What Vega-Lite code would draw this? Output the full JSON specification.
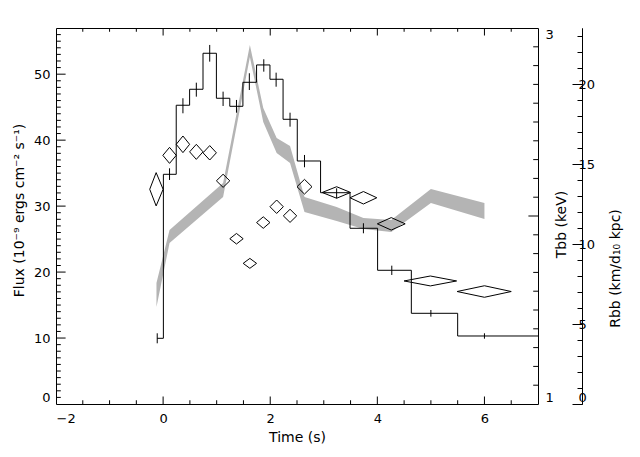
{
  "$schema": "https://vega.github.io/schema/vega-lite/v6.json",
  "width": 482,
  "height": 376,
  "autosize": {"type": "none"},
  "padding": {"left": 56, "top": 28, "right": 102, "bottom": 53},
  "background": "white",
  "config": {
    "view": {"stroke": "black", "strokeWidth": 1},
    "axis": {
      "domainColor": "black", "tickColor": "black", "labelColor": "black", "titleColor": "black",
      "labelFont": "DejaVu Sans", "titleFont": "DejaVu Sans", "labelFontSize": 13, "titleFontSize": 14,
      "titleFontWeight": "normal", "domainWidth": 1, "tickWidth": 1, "grid": false,
      "labelOverlap": false, "labelBound": false
    },
    "tick": {"thickness": 1, "opacity": 1, "color": "black"}
  },
  "datasets": {
    "flux": [
      {"t": -0.11, "flux": 9.96, "lo": 9.20, "hi": 10.72},
      {"t": 0.12, "flux": 34.82, "lo": 33.96, "hi": 35.73},
      {"t": 0.37, "flux": 45.29, "lo": 44.07, "hi": 46.35},
      {"t": 0.62, "flux": 47.71, "lo": 46.59, "hi": 48.71},
      {"t": 0.87, "flux": 53.17, "lo": 51.90, "hi": 54.43},
      {"t": 1.12, "flux": 46.35, "lo": 45.18, "hi": 47.35},
      {"t": 1.37, "flux": 45.13, "lo": 44.16, "hi": 46.09},
      {"t": 1.61, "flux": 48.77, "lo": 47.60, "hi": 50.14},
      {"t": 1.88, "flux": 51.40, "lo": 50.38, "hi": 52.26},
      {"t": 2.11, "flux": 49.23, "lo": 48.10, "hi": 50.23},
      {"t": 2.37, "flux": 43.16, "lo": 42.04, "hi": 44.16},
      {"t": 2.64, "flux": 36.84, "lo": 35.89, "hi": 37.75},
      {"t": 3.24, "flux": 32.03, "lo": 31.19, "hi": 32.70},
      {"t": 3.74, "flux": 26.64, "lo": 25.88, "hi": 27.40},
      {"t": 4.27, "flux": 20.27, "lo": 19.56, "hi": 20.97},
      {"t": 5.0, "flux": 13.75, "lo": 13.24, "hi": 14.25},
      {"t": 6.0, "flux": 10.31, "lo": 9.90, "hi": 10.72},
      {"t": 8.5, "flux": 10.31, "lo": null, "hi": null}
    ],
    "band": [
      {"t": -0.124, "lo": 1.516, "hi": 1.644},
      {"t": 0.12, "lo": 1.856, "hi": 1.926},
      {"t": 1.12, "lo": 2.101, "hi": 2.176},
      {"t": 1.62, "lo": 2.846, "hi": 2.910},
      {"t": 1.87, "lo": 2.500, "hi": 2.574},
      {"t": 2.12, "lo": 2.335, "hi": 2.415},
      {"t": 2.37, "lo": 2.282, "hi": 2.372},
      {"t": 2.64, "lo": 2.021, "hi": 2.101},
      {"t": 3.24, "lo": 1.973, "hi": 2.048},
      {"t": 3.74, "lo": 1.931, "hi": 1.989},
      {"t": 4.26, "lo": 1.915, "hi": 1.979},
      {"t": 5.0, "lo": 2.069, "hi": 2.144},
      {"t": 6.0, "lo": 1.984, "hi": 2.069}
    ],
    "diam": [
      {"id": 1, "t": -0.25, "lo": 13.42, "hi": 13.42}, {"id": 1, "t": -0.13, "lo": 12.38, "hi": 14.46}, {"id": 1, "t": 0.0, "lo": 13.42, "hi": 13.42},
      {"id": 2, "t": -0.005, "lo": 15.54, "hi": 15.54}, {"id": 2, "t": 0.12, "lo": 15.04, "hi": 16.04}, {"id": 2, "t": 0.245, "lo": 15.54, "hi": 15.54},
      {"id": 3, "t": 0.245, "lo": 16.23, "hi": 16.23}, {"id": 3, "t": 0.37, "lo": 15.71, "hi": 16.75}, {"id": 3, "t": 0.495, "lo": 16.23, "hi": 16.23},
      {"id": 4, "t": 0.495, "lo": 15.76, "hi": 15.76}, {"id": 4, "t": 0.62, "lo": 15.29, "hi": 16.23}, {"id": 4, "t": 0.745, "lo": 15.76, "hi": 15.76},
      {"id": 5, "t": 0.745, "lo": 15.70, "hi": 15.70}, {"id": 5, "t": 0.87, "lo": 15.25, "hi": 16.15}, {"id": 5, "t": 0.995, "lo": 15.70, "hi": 15.70},
      {"id": 6, "t": 0.995, "lo": 13.95, "hi": 13.95}, {"id": 6, "t": 1.12, "lo": 13.54, "hi": 14.36}, {"id": 6, "t": 1.245, "lo": 13.95, "hi": 13.95},
      {"id": 7, "t": 1.245, "lo": 10.33, "hi": 10.33}, {"id": 7, "t": 1.37, "lo": 10.00, "hi": 10.66}, {"id": 7, "t": 1.495, "lo": 10.33, "hi": 10.33},
      {"id": 8, "t": 1.495, "lo": 8.79, "hi": 8.79}, {"id": 8, "t": 1.62, "lo": 8.48, "hi": 9.10}, {"id": 8, "t": 1.745, "lo": 8.79, "hi": 8.79},
      {"id": 9, "t": 1.745, "lo": 11.34, "hi": 11.34}, {"id": 9, "t": 1.87, "lo": 10.98, "hi": 11.70}, {"id": 9, "t": 1.995, "lo": 11.34, "hi": 11.34},
      {"id": 10, "t": 1.995, "lo": 12.33, "hi": 12.33}, {"id": 10, "t": 2.12, "lo": 11.91, "hi": 12.75}, {"id": 10, "t": 2.245, "lo": 12.33, "hi": 12.33},
      {"id": 11, "t": 2.245, "lo": 11.76, "hi": 11.76}, {"id": 11, "t": 2.37, "lo": 11.35, "hi": 12.17}, {"id": 11, "t": 2.495, "lo": 11.76, "hi": 11.76},
      {"id": 12, "t": 2.50, "lo": 13.58, "hi": 13.58}, {"id": 12, "t": 2.64, "lo": 13.12, "hi": 14.04}, {"id": 12, "t": 2.78, "lo": 13.58, "hi": 13.58},
      {"id": 13, "t": 2.97, "lo": 13.22, "hi": 13.22}, {"id": 13, "t": 3.24, "lo": 12.86, "hi": 13.58}, {"id": 13, "t": 3.50, "lo": 13.22, "hi": 13.22},
      {"id": 14, "t": 3.49, "lo": 12.89, "hi": 12.89}, {"id": 14, "t": 3.74, "lo": 12.50, "hi": 13.28}, {"id": 14, "t": 3.99, "lo": 12.89, "hi": 12.89},
      {"id": 15, "t": 4.00, "lo": 11.26, "hi": 11.26}, {"id": 15, "t": 4.26, "lo": 10.87, "hi": 11.65}, {"id": 15, "t": 4.52, "lo": 11.26, "hi": 11.26},
      {"id": 16, "t": 4.50, "lo": 7.69, "hi": 7.69}, {"id": 16, "t": 4.99, "lo": 7.38, "hi": 8.00}, {"id": 16, "t": 5.48, "lo": 7.69, "hi": 7.69},
      {"id": 17, "t": 5.49, "lo": 7.03, "hi": 7.03}, {"id": 17, "t": 6.00, "lo": 6.67, "hi": 7.39}, {"id": 17, "t": 6.50, "lo": 7.03, "hi": 7.03}
    ],
    "fluxMajor": [{"v": 10}, {"v": 20}, {"v": 30}, {"v": 40}, {"v": 50}],
    "fluxMinor": [{"v": 1}, {"v": 2}, {"v": 3}, {"v": 4}, {"v": 5}, {"v": 6}, {"v": 7}, {"v": 8}, {"v": 9},
      {"v": 11}, {"v": 12}, {"v": 13}, {"v": 14}, {"v": 15}, {"v": 16}, {"v": 17}, {"v": 18}, {"v": 19},
      {"v": 21}, {"v": 22}, {"v": 23}, {"v": 24}, {"v": 25}, {"v": 26}, {"v": 27}, {"v": 28}, {"v": 29},
      {"v": 31}, {"v": 32}, {"v": 33}, {"v": 34}, {"v": 35}, {"v": 36}, {"v": 37}, {"v": 38}, {"v": 39},
      {"v": 41}, {"v": 42}, {"v": 43}, {"v": 44}, {"v": 45}, {"v": 46}, {"v": 47}, {"v": 48}, {"v": 49},
      {"v": 51}, {"v": 52}, {"v": 53}, {"v": 54}, {"v": 55}, {"v": 56}],
    "tMajor": [{"v": 2}],
    "tMinor": [{"v": 1.1}, {"v": 1.2}, {"v": 1.3}, {"v": 1.4}, {"v": 1.5}, {"v": 1.6}, {"v": 1.7}, {"v": 1.8}, {"v": 1.9},
      {"v": 2.1}, {"v": 2.2}, {"v": 2.3}, {"v": 2.4}, {"v": 2.5}, {"v": 2.6}, {"v": 2.7}, {"v": 2.8}, {"v": 2.9}],
    "timeMajor": [{"v": 0}, {"v": 2}, {"v": 4}, {"v": 6}],
    "timeMinor": [{"v": -1.5}, {"v": -1}, {"v": -0.5}, {"v": 0.5}, {"v": 1}, {"v": 1.5}, {"v": 2.5}, {"v": 3}, {"v": 3.5}, {"v": 4.5}, {"v": 5}, {"v": 5.5}, {"v": 6.5}]
  },
  "layer": [
    {
      "data": {"name": "band"},
      "mark": {"type": "area", "color": "#b4b4b4", "clip": true},
      "encoding": {
        "x": {"field": "t", "type": "quantitative", "scale": {"domain": [-2, 7], "nice": false, "zero": false}, "axis": null},
        "y": {"field": "hi", "type": "quantitative", "scale": {"domain": [1, 3], "nice": false, "zero": false},
          "axis": {"orient": "right", "values": [1, 2, 3], "format": "d", "ticks": false, "domain": false,
            "labelPadding": 7, "labelFlush": true,
            "title": "Tbb (keV)", "titleAngle": -90, "titleX": 23, "titleY": 196, "titleAlign": "center", "titleBaseline": "middle"}},
        "y2": {"field": "lo"}
      }
    },
    {
      "data": {"name": "flux"},
      "mark": {"type": "line", "interpolate": "step", "color": "black", "strokeWidth": 1, "clip": true},
      "encoding": {
        "x": {"field": "t", "type": "quantitative",
          "axis": {"orient": "bottom", "values": [-2, 0, 2, 4, 6], "format": "d", "ticks": false, "domain": false,
            "labelPadding": 8,
            "title": "Time (s)", "titleX": 241, "titleY": 33, "titleAlign": "center", "titleBaseline": "middle"}},
        "y": {"field": "flux", "type": "quantitative", "scale": {"domain": [0, 57], "nice": false, "zero": false},
          "axis": {"orient": "left", "values": [0, 10, 20, 30, 40, 50], "format": "d", "ticks": false, "domain": false,
            "labelPadding": 6, "labelFlush": true,
            "title": "Flux (10⁻⁹ ergs cm⁻² s⁻¹)", "titleAngle": -90, "titleX": -37, "titleY": 182, "titleAlign": "center", "titleBaseline": "middle"}}
      }
    },
    {
      "data": {"name": "flux"},
      "mark": {"type": "rule", "color": "black", "strokeWidth": 1, "clip": true},
      "encoding": {
        "x": {"field": "t", "type": "quantitative", "axis": null},
        "y": {"field": "lo", "type": "quantitative", "scale": {"domain": [0, 57], "nice": false, "zero": false}, "axis": null},
        "y2": {"field": "hi"}
      }
    },
    {
      "data": {"name": "diam"},
      "mark": {"type": "area", "fill": "white", "fillOpacity": 0, "stroke": "black", "strokeWidth": 1, "clip": true},
      "encoding": {
        "x": {"field": "t", "type": "quantitative", "axis": null},
        "y": {"field": "hi", "type": "quantitative", "scale": {"domain": [0, 23.5], "nice": false, "zero": false},
          "axis": {"orient": "right", "offset": 44, "values": [0, 5, 10, 15, 20], "format": "d", "ticks": true, "tickSize": -10,
            "labelPadding": 6, "labelFlush": true, "domain": true,
            "title": "Rbb (km/d₁₀ kpc)", "titleAngle": -90, "titleX": 33, "titleY": 240, "titleAlign": "center", "titleBaseline": "middle"}},
        "y2": {"field": "lo"},
        "detail": {"field": "id"}
      }
    },
    {
      "data": {"name": "diam"},
      "mark": {"type": "area", "opacity": 0},
      "encoding": {
        "x": {"field": "t", "type": "quantitative", "axis": null},
        "y": {"field": "hi", "type": "quantitative", "scale": {"domain": [0, 23.5], "nice": false, "zero": false},
          "axis": {"orient": "right", "offset": 44, "values": [1,2,3,4,6,7,8,9,11,12,13,14,16,17,18,19,21,22,23],
            "labels": false, "title": null, "domain": true, "ticks": true, "tickSize": -5}},
        "y2": {"field": "lo"},
        "detail": {"field": "id"}
      }
    },
    {
      "data": {"name": "fluxMajor"},
      "mark": {"type": "tick", "orient": "horizontal", "size": 9.6, "xOffset": 4.8},
      "encoding": {
        "x": {"datum": -2, "type": "quantitative", "axis": null},
        "y": {"field": "v", "type": "quantitative", "scale": {"domain": [0, 57], "nice": false, "zero": false}, "axis": null}
      }
    },
    {
      "data": {"name": "fluxMinor"},
      "mark": {"type": "tick", "orient": "horizontal", "size": 4.8, "xOffset": 2.4},
      "encoding": {
        "x": {"datum": -2, "type": "quantitative", "axis": null},
        "y": {"field": "v", "type": "quantitative", "scale": {"domain": [0, 57], "nice": false, "zero": false}, "axis": null}
      }
    },
    {
      "data": {"name": "tMajor"},
      "mark": {"type": "tick", "orient": "horizontal", "size": 9.6, "xOffset": -4.8},
      "encoding": {
        "x": {"datum": 7, "type": "quantitative", "axis": null},
        "y": {"field": "v", "type": "quantitative", "scale": {"domain": [1, 3], "nice": false, "zero": false}, "axis": null}
      }
    },
    {
      "data": {"name": "tMinor"},
      "mark": {"type": "tick", "orient": "horizontal", "size": 4.8, "xOffset": -2.4},
      "encoding": {
        "x": {"datum": 7, "type": "quantitative", "axis": null},
        "y": {"field": "v", "type": "quantitative", "scale": {"domain": [1, 3], "nice": false, "zero": false}, "axis": null}
      }
    },
    {
      "data": {"name": "timeMajor"},
      "mark": {"type": "tick", "orient": "vertical", "size": 7.5, "yOffset": -3.75},
      "encoding": {
        "x": {"field": "v", "type": "quantitative", "axis": null},
        "y": {"datum": 0, "type": "quantitative", "scale": {"domain": [0, 57], "nice": false, "zero": false}, "axis": null}
      }
    },
    {
      "data": {"name": "timeMinor"},
      "mark": {"type": "tick", "orient": "vertical", "size": 3.75, "yOffset": -1.875},
      "encoding": {
        "x": {"field": "v", "type": "quantitative", "axis": null},
        "y": {"datum": 0, "type": "quantitative", "scale": {"domain": [0, 57], "nice": false, "zero": false}, "axis": null}
      }
    },
    {
      "data": {"name": "timeMajor"},
      "mark": {"type": "tick", "orient": "vertical", "size": 7.5, "yOffset": 3.75},
      "encoding": {
        "x": {"field": "v", "type": "quantitative", "axis": null},
        "y": {"datum": 57, "type": "quantitative", "scale": {"domain": [0, 57], "nice": false, "zero": false}, "axis": null}
      }
    },
    {
      "data": {"name": "timeMinor"},
      "mark": {"type": "tick", "orient": "vertical", "size": 3.75, "yOffset": 1.875},
      "encoding": {
        "x": {"field": "v", "type": "quantitative", "axis": null},
        "y": {"datum": 57, "type": "quantitative", "scale": {"domain": [0, 57], "nice": false, "zero": false}, "axis": null}
      }
    }
  ],
  "resolve": {"scale": {"y": "independent"}, "axis": {"x": "independent", "y": "independent"}}
}
